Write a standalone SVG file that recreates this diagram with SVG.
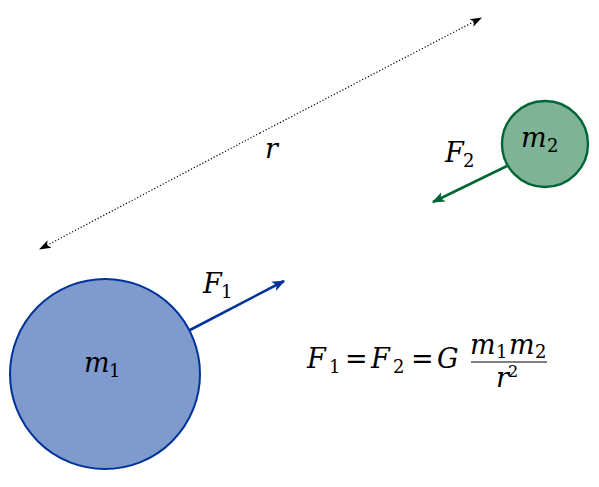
<svg xmlns="http://www.w3.org/2000/svg" width="599" height="487" viewBox="0 0 599 487">
<style>
.t{font-family:"DejaVu Serif","Liberation Serif",serif;font-size:27px;fill:#000}
.i{font-style:italic}
.n{font-style:normal}
.s{font-size:18px;font-style:normal}
.p{font-size:16px;font-style:normal}
</style>
<defs>
<marker id="ab" viewBox="0 0 10 10" refX="9" refY="5" markerWidth="5" markerHeight="5" orient="auto" markerUnits="strokeWidth"><path d="M0,1 L10,5 L0,9 L2.5,5 Z" fill="#003399"/></marker>
<marker id="ag" viewBox="0 0 10 10" refX="9" refY="5" markerWidth="5" markerHeight="5" orient="auto" markerUnits="strokeWidth"><path d="M0,1 L10,5 L0,9 L2.5,5 Z" fill="#006633"/></marker>
<marker id="ak" viewBox="0 0 10 10" refX="9" refY="5" markerWidth="10" markerHeight="10" orient="auto" markerUnits="strokeWidth"><path d="M0,1.5 L10,5 L0,8.5 L2.5,5 Z" fill="#000"/></marker>
</defs>
<g id="connectors">
<line x1="260" y1="133" x2="481" y2="18" stroke="#000" stroke-width="1.2" stroke-dasharray="1.2,2" marker-end="url(#ak)"/>
<line x1="260" y1="133" x2="40" y2="249" stroke="#000" stroke-width="1.2" stroke-dasharray="1.2,2" marker-end="url(#ak)"/>
<line x1="190" y1="330" x2="284" y2="281" stroke="#003399" stroke-width="2.6" marker-end="url(#ab)"/>
<line x1="507" y1="166" x2="433" y2="202" stroke="#006633" stroke-width="2.6" marker-end="url(#ag)"/>
</g>
<g id="m1">
<circle cx="105" cy="374" r="95" fill="#7f9acc" stroke="#003399" stroke-width="2"/>
<text class="t i" x="84" y="372">m<tspan class="s" x="109" y="377">1</tspan></text>
</g>
<g id="m2">
<circle cx="545" cy="144" r="43" fill="#7fb397" stroke="#006633" stroke-width="2.4"/>
<text class="t i" x="521" y="147">m<tspan class="s" x="547" y="152">2</tspan></text>
</g>
<g id="labels">
<text class="t i" x="265" y="158">r</text>
<text class="t i" x="203" y="293">F<tspan class="s" x="221" y="298">1</tspan></text>
<text class="t i" x="445" y="162">F<tspan class="s" x="463" y="167">2</tspan></text>
</g>
<g id="equation">
<text class="t i" x="307" y="368">F<tspan class="s" x="329" y="373">1</tspan><tspan class="n" x="345" y="368">=</tspan><tspan x="371" y="368">F</tspan><tspan class="s" x="393" y="373">2</tspan><tspan class="n" x="411" y="368">=</tspan><tspan x="437" y="368">G</tspan></text>
<text class="t i" x="470" y="354">m<tspan class="s" x="496" y="358">1</tspan><tspan x="509" y="354">m</tspan><tspan class="s" x="535" y="358">2</tspan></text>
<line x1="471" y1="362" x2="547" y2="362" stroke="#000" stroke-width="1"/>
<text class="t i" x="496" y="387">r<tspan class="p" x="508" y="377">2</tspan></text>
</g>
</svg>
